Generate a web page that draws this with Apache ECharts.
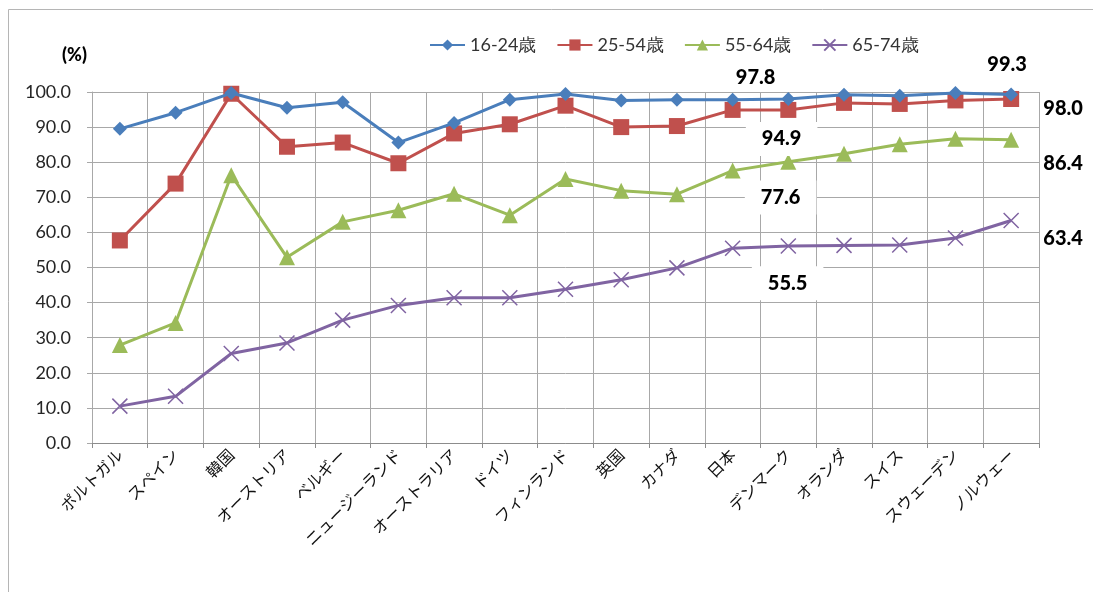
<!DOCTYPE html>
<html>
<head>
<meta charset="utf-8">
<script src="https://cdn.jsdelivr.net/npm/echarts@6/dist/echarts.min.js"></script>
<style>
  html, body { margin: 0; padding: 0; background: #ffffff; }
  #chart { width: 1093px; height: 592px; }
</style>
</head>
<body>
<div id="chart"></div>
<script>
// Internet usage rate by age group and country (%)
const countries = ['ポルトガル', 'スペイン', '韓国', 'オーストリア', 'ベルギー', 'ニュージーランド',
  'オーストラリア', 'ドイツ', 'フィンランド', '英国', 'カナダ', '日本', 'デンマーク', 'オランダ',
  'スイス', 'スウェーデン', 'ノルウェー'];
const age16to24 = [89.5, 94.1, 99.7, 95.5, 97.1, 85.6, 91.2, 97.8, 99.4, 97.6, 97.8, 97.8, 98.0, 99.2, 98.9, 99.7, 99.3];
const age25to54 = [57.7, 73.9, 99.5, 84.4, 85.6, 79.7, 88.2, 90.8, 96.1, 90.0, 90.3, 94.9, 94.9, 96.9, 96.6, 97.6, 98.0];
const age55to64 = [27.9, 34.2, 76.3, 52.9, 63.0, 66.3, 71.0, 64.9, 75.2, 71.9, 70.9, 77.6, 80.1, 82.4, 85.1, 86.7, 86.4];
const age65to74 = [10.5, 13.3, 25.5, 28.5, 35.0, 39.2, 41.4, 41.4, 43.8, 46.5, 49.9, 55.5, 56.1, 56.3, 56.4, 58.4, 63.4];
const seriesNames = ['16-24歳', '25-54歳', '55-64歳', '65-74歳'];
const yTicks = { min: 0, max: 100, step: 10 };

const JP = countries.indexOf('日本');
const NO = countries.indexOf('ノルウェー');

const numFont = 'Lato, "Open Sans", sans-serif';

function valueLabel(offset, boxed) {
  const lab = {
    show: true,
    position: 'inside',
    offset: offset,
    fontFamily: numFont,
    fontWeight: 900,
    fontSize: 20,
    color: '#000000',
    formatter: p => Number(p.value).toFixed(1)
  };
  if (boxed) {
    lab.backgroundColor = '#ffffff';
    lab.padding = [7, 16];
  }
  return lab;
}

// attach value labels to selected points
function withLabels(values, labels) {
  return values.map((v, i) => labels[i] ? { value: v, label: labels[i] } : v);
}

const xMark = 'path://M0,0L10,10M10,0L0,10';

const option = {
  backgroundColor: '#ffffff',
  animation: false,
  graphic: [
    {
      type: 'rect',
      shape: { x: 8.5, y: 9.5, width: 1300, height: 900 },
      style: { fill: 'none', stroke: '#b5b5b5', lineWidth: 1 },
      silent: true
    },
    {
      type: 'text',
      left: 62, top: 46,
      style: { text: '(%)', font: '900 18px ' + numFont, fill: '#000000' }
    }
  ],
  legend: {
    top: 31,
    left: 424,
    itemWidth: 35,
    itemHeight: 14,
    itemGap: 20,
    textStyle: { fontFamily: numFont, fontSize: 18, color: '#333333' },
    data: seriesNames
  },
  grid: { left: 92, right: 54, top: 92, bottom: 149 },
  xAxis: {
    type: 'category',
    data: countries,
    boundaryGap: true,
    axisLine: { show: true, lineStyle: { color: '#8c8c8c', width: 1 } },
    axisTick: { show: true, alignWithLabel: false, length: 5, lineStyle: { color: '#8c8c8c' } },
    splitLine: { show: true, interval: 0, lineStyle: { color: '#a8a8a8', width: 1 } },
    axisLabel: {
      interval: 0,
      rotate: 45,
      margin: 9,
      fontFamily: '"Noto Sans CJK JP", sans-serif',
      fontSize: 16,
      color: '#111111'
    }
  },
  yAxis: {
    type: 'value',
    min: yTicks.min,
    max: yTicks.max,
    interval: yTicks.step,
    axisLine: { show: true, lineStyle: { color: '#a8a8a8', width: 1 } },
    axisTick: { show: true, length: 5, lineStyle: { color: '#a8a8a8' } },
    splitLine: { show: true, lineStyle: { color: '#a8a8a8', width: 1 } },
    axisLabel: {
      margin: 21,
      fontFamily: numFont,
      fontSize: 18,
      color: '#262626',
      formatter: v => v.toFixed(1)
    }
  },
  series: [
    {
      name: seriesNames[0],
      type: 'line',
      data: withLabels(age16to24, { [JP]: valueLabel([23, -22], false), [NO]: valueLabel([-4, -30], false) }),
      symbol: 'diamond',
      symbolSize: 14,
      lineStyle: { color: '#4a7ebb', width: 3 },
      itemStyle: { color: '#4a7ebb' },
      z: 5
    },
    {
      name: seriesNames[1],
      type: 'line',
      data: withLabels(age25to54, { [JP]: valueLabel([49, 29], true), [NO]: valueLabel([52, 10], false) }),
      symbol: 'rect',
      symbolSize: 16,
      lineStyle: { color: '#c0504d', width: 3 },
      itemStyle: { color: '#c0504d' },
      z: 4
    },
    {
      name: seriesNames[2],
      type: 'line',
      data: withLabels(age55to64, { [JP]: valueLabel([48, 27], true), [NO]: valueLabel([52, 24], false) }),
      symbol: 'triangle',
      symbolSize: 16,
      lineStyle: { color: '#9bbb59', width: 3 },
      itemStyle: { color: '#9bbb59' },
      z: 3
    },
    {
      name: seriesNames[3],
      type: 'line',
      data: withLabels(age65to74, { [JP]: valueLabel([55, 35], true), [NO]: valueLabel([52, 18], false) }),
      symbol: xMark,
      symbolSize: 15,
      lineStyle: { color: '#8064a2', width: 3 },
      itemStyle: { color: '#8064a2', borderColor: '#8064a2', borderWidth: 1.5 },
      z: 2
    }
  ]
};

const chart = echarts.init(document.getElementById('chart'), null, { renderer: 'canvas' });
chart.setOption(option);
</script>
</body>
</html>
